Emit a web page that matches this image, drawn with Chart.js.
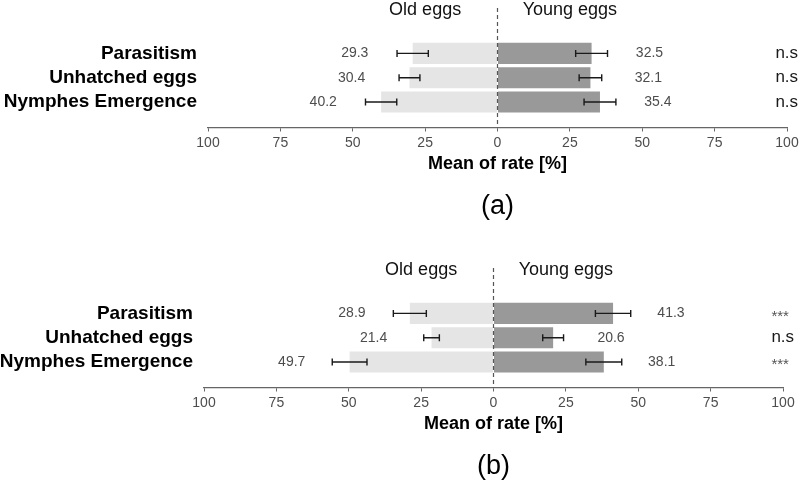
<!DOCTYPE html>
<html>
<head>
<meta charset="utf-8">
<script src="https://cdn.jsdelivr.net/npm/chart.js@4.4.0/dist/chart.umd.min.js"></script>
<style>
html, body { margin: 0; padding: 0; background: #fff; overflow: hidden; }
#wrap { position: relative; width: 800px; height: 481px; overflow: hidden; }
canvas { position: absolute; }
#chartA { left: 0; top: 0; }
#chartB { left: -4px; top: 260px; }
</style>
</head>
<body>
<div id="wrap">
  <canvas id="chartA" width="800" height="240"></canvas>
  <canvas id="chartB" width="800" height="240"></canvas>
</div>
<script>
// data
const categories = ['Parasitism', 'Unhatched eggs', 'Nymphes Emergence'];
const groups = ['Old eggs', 'Young eggs'];
const xTitle = 'Mean of rate [%]';

// panel (a)
const oldA = [29.3, 30.4, 40.2];
const oldErrA = [5.4, 3.6, 5.4];
const youngA = [32.5, 32.1, 35.4];
const youngErrA = [5.5, 3.9, 5.5];
const sigA = ['n.s', 'n.s', 'n.s'];

// panel (b)
const oldB = [28.9, 21.4, 49.7];
const oldErrB = [5.7, 2.7, 6.0];
const youngB = [41.3, 20.6, 38.1];
const youngErrB = [6.1, 3.6, 6.2];
const sigB = ['***', 'n.s', '***'];

const FONT = "'Liberation Sans', Arial, sans-serif";
Chart.defaults.font.family = FONT;

// dashed zero line, headers, error bars, value labels, significance, panel tag
const panelDecor = {
  id: 'panelDecor',
  afterDatasetsDraw(chart, args, opts) {
    const ctx = chart.ctx;
    const area = chart.chartArea;
    const x = chart.scales.x, y = chart.scales.y;
    const x0 = x.getPixelForValue(0);
    ctx.save();

    ctx.strokeStyle = '#555';
    ctx.lineWidth = 1.2;
    ctx.setLineDash([4, 3]);
    ctx.beginPath();
    ctx.moveTo(x0, area.top);
    ctx.lineTo(x0, area.bottom);
    ctx.stroke();
    ctx.setLineDash([]);

    ctx.fillStyle = '#111';
    ctx.font = '18px ' + FONT;
    ctx.textAlign = 'center';
    ctx.textBaseline = 'alphabetic';
    ctx.fillText(groups[0], x.getPixelForValue(-25), area.top + 7);
    ctx.fillText(groups[1], x.getPixelForValue(25), area.top + 7);

    chart.data.datasets.forEach((ds, d) => {
      const sign = d === 0 ? -1 : 1;
      ds.data.forEach((pt, i) => {
        const v = Math.abs(pt.x);
        const e = ds.errors[i];
        const yc = y.getPixelForValue(i);
        const xa = x.getPixelForValue(sign * (v - e));
        const xb = x.getPixelForValue(sign * (v + e));
        ctx.strokeStyle = '#1a1a1a';
        ctx.lineWidth = 1.4;
        ctx.beginPath();
        ctx.moveTo(xa, yc); ctx.lineTo(xb, yc);
        ctx.moveTo(xa, yc - 3.5); ctx.lineTo(xa, yc + 3.5);
        ctx.moveTo(xb, yc - 3.5); ctx.lineTo(xb, yc + 3.5);
        ctx.stroke();

        ctx.fillStyle = '#4d4d4d';
        ctx.font = '14px ' + FONT;
        ctx.textAlign = 'center';
        ctx.textBaseline = 'middle';
        ctx.fillText(v.toFixed(1), x.getPixelForValue(sign * (v + 20)), yc);
      });
    });

    ctx.textAlign = 'left';
    ctx.textBaseline = 'middle';
    opts.sig.forEach((s, i) => {
      const yc = y.getPixelForValue(i);
      if (s === 'n.s') {
        ctx.fillStyle = '#1a1a1a';
        ctx.font = '17px ' + FONT;
        ctx.fillText(s, x.getPixelForValue(96), yc);
      } else {
        ctx.fillStyle = '#555';
        ctx.font = '15px ' + FONT;
        ctx.fillText(s, x.getPixelForValue(96), yc + 3);
      }
    });

    ctx.fillStyle = '#000';
    ctx.font = '27px ' + FONT;
    ctx.textAlign = 'center';
    ctx.fillText(opts.label, x0, 207);
    ctx.restore();
  }
};

function noEdgePadding(s) {
  s.paddingTop = 0;
  s.paddingBottom = 0;
  s.paddingLeft = 0;
  s.paddingRight = 0;
}

function buildChart(id, oldVals, oldErr, youngVals, youngErr, sig, label) {
  const ctx = document.getElementById(id).getContext('2d');
  return new Chart(ctx, {
    type: 'bar',
    data: {
      datasets: [
        {
          label: groups[0],
          data: oldVals.map((v, i) => ({ x: -v, y: i })),
          backgroundColor: '#e5e5e5',
          errors: oldErr
        },
        {
          label: groups[1],
          data: youngVals.map((v, i) => ({ x: v, y: i })),
          backgroundColor: '#999999',
          errors: youngErr
        }
      ]
    },
    options: {
      responsive: false,
      animation: false,
      indexAxis: 'y',
      barPercentage: 0.87,
      categoryPercentage: 1,
      layout: { padding: { left: 0, right: 13, top: 8, bottom: 0 } },
      plugins: {
        legend: { display: false },
        tooltip: { enabled: false },
        panelDecor: { sig: sig, label: label }
      },
      scales: {
        x: {
          type: 'linear',
          stacked: true,
          min: -100,
          max: 100,
          offset: false,
          ticks: {
            stepSize: 25,
            callback: v => Math.abs(v),
            color: '#4d4d4d',
            font: { size: 14 },
            padding: 3
          },
          grid: { drawOnChartArea: false, drawTicks: true, tickLength: 4, color: '#666', offset: false },
          border: { display: true, color: '#666', width: 1.3 },
          title: {
            display: true,
            text: xTitle,
            color: '#000',
            font: { size: 18, weight: 'bold' },
            padding: { top: 0, bottom: 65 }
          },
          afterFit: s => { s.height = 112.5; noEdgePadding(s); }
        },
        y: {
          type: 'linear',
          stacked: true,
          reverse: true,
          offset: false,
          min: -1.87,
          max: 3.05,
          afterBuildTicks: s => { s.ticks = categories.map((c, i) => ({ value: i })); },
          ticks: {
            autoSkip: false,
            callback: v => categories[v],
            color: '#000',
            font: { size: 19, weight: 'bold' },
            padding: 11
          },
          grid: { display: false, drawTicks: false, offset: false },
          border: { display: false },
          afterFit: s => { s.width = 208; noEdgePadding(s); }
        }
      }
    },
    plugins: [panelDecor]
  });
}

buildChart('chartA', oldA, oldErrA, youngA, youngErrA, sigA, '(a)');
buildChart('chartB', oldB, oldErrB, youngB, youngErrB, sigB, '(b)');
</script>
</body>
</html>
